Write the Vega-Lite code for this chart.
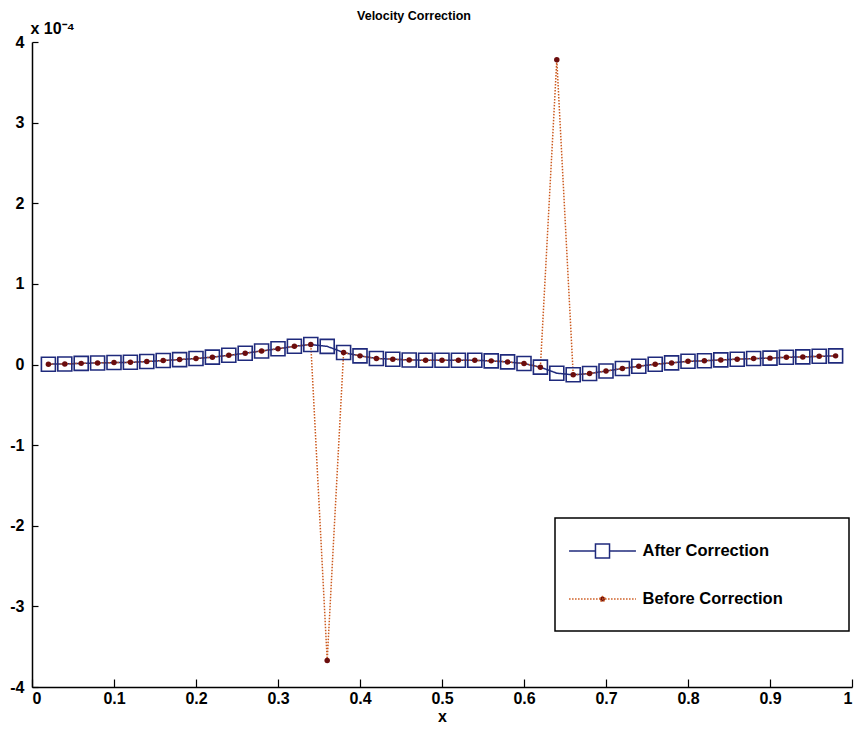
{
  "$schema": "https://vega.github.io/schema/vega-lite/v6.json",
  "width": 820,
  "height": 645,
  "autosize": "none",
  "padding": {"left": 32, "top": 42, "right": 4, "bottom": 44},
  "background": "white",
  "title": {
    "text": "Velocity Correction",
    "font": "Liberation Sans",
    "fontSize": 12.5,
    "fontWeight": "bold",
    "color": "black",
    "anchor": "middle",
    "dx": -28,
    "dy": 12,
    "baseline": "alphabetic",
    "offset": 0
  },
  "data": {
    "values": [
      {"x": 0.02, "series": "After Correction", "v": 0.004e-4},
      {"x": 0.04, "series": "After Correction", "v": 0.007e-4},
      {"x": 0.06, "series": "After Correction", "v": 0.014e-4},
      {"x": 0.08, "series": "After Correction", "v": 0.019e-4},
      {"x": 0.10, "series": "After Correction", "v": 0.024e-4},
      {"x": 0.12, "series": "After Correction", "v": 0.027e-4},
      {"x": 0.14, "series": "After Correction", "v": 0.037e-4},
      {"x": 0.16, "series": "After Correction", "v": 0.049e-4},
      {"x": 0.18, "series": "After Correction", "v": 0.061e-4},
      {"x": 0.20, "series": "After Correction", "v": 0.074e-4},
      {"x": 0.22, "series": "After Correction", "v": 0.091e-4},
      {"x": 0.24, "series": "After Correction", "v": 0.114e-4},
      {"x": 0.26, "series": "After Correction", "v": 0.140e-4},
      {"x": 0.28, "series": "After Correction", "v": 0.168e-4},
      {"x": 0.30, "series": "After Correction", "v": 0.195e-4},
      {"x": 0.32, "series": "After Correction", "v": 0.226e-4},
      {"x": 0.34, "series": "After Correction", "v": 0.248e-4},
      {"x": 0.36, "series": "After Correction", "v": 0.225e-4},
      {"x": 0.38, "series": "After Correction", "v": 0.148e-4},
      {"x": 0.40, "series": "After Correction", "v": 0.107e-4},
      {"x": 0.42, "series": "After Correction", "v": 0.075e-4},
      {"x": 0.44, "series": "After Correction", "v": 0.066e-4},
      {"x": 0.46, "series": "After Correction", "v": 0.056e-4},
      {"x": 0.48, "series": "After Correction", "v": 0.053e-4},
      {"x": 0.50, "series": "After Correction", "v": 0.053e-4},
      {"x": 0.52, "series": "After Correction", "v": 0.053e-4},
      {"x": 0.54, "series": "After Correction", "v": 0.052e-4},
      {"x": 0.56, "series": "After Correction", "v": 0.045e-4},
      {"x": 0.58, "series": "After Correction", "v": 0.032e-4},
      {"x": 0.60, "series": "After Correction", "v": 0.012e-4},
      {"x": 0.62, "series": "After Correction", "v": -0.033e-4},
      {"x": 0.64, "series": "After Correction", "v": -0.108e-4},
      {"x": 0.66, "series": "After Correction", "v": -0.128e-4},
      {"x": 0.68, "series": "After Correction", "v": -0.112e-4},
      {"x": 0.70, "series": "After Correction", "v": -0.081e-4},
      {"x": 0.72, "series": "After Correction", "v": -0.050e-4},
      {"x": 0.74, "series": "After Correction", "v": -0.021e-4},
      {"x": 0.76, "series": "After Correction", "v": 0.004e-4},
      {"x": 0.78, "series": "After Correction", "v": 0.020e-4},
      {"x": 0.80, "series": "After Correction", "v": 0.040e-4},
      {"x": 0.82, "series": "After Correction", "v": 0.046e-4},
      {"x": 0.84, "series": "After Correction", "v": 0.057e-4},
      {"x": 0.86, "series": "After Correction", "v": 0.066e-4},
      {"x": 0.88, "series": "After Correction", "v": 0.074e-4},
      {"x": 0.90, "series": "After Correction", "v": 0.079e-4},
      {"x": 0.92, "series": "After Correction", "v": 0.090e-4},
      {"x": 0.94, "series": "After Correction", "v": 0.094e-4},
      {"x": 0.96, "series": "After Correction", "v": 0.102e-4},
      {"x": 0.98, "series": "After Correction", "v": 0.107e-4},
      {"x": 0.02, "series": "Before Correction", "v": 0.004e-4},
      {"x": 0.04, "series": "Before Correction", "v": 0.007e-4},
      {"x": 0.06, "series": "Before Correction", "v": 0.014e-4},
      {"x": 0.08, "series": "Before Correction", "v": 0.019e-4},
      {"x": 0.10, "series": "Before Correction", "v": 0.024e-4},
      {"x": 0.12, "series": "Before Correction", "v": 0.027e-4},
      {"x": 0.14, "series": "Before Correction", "v": 0.037e-4},
      {"x": 0.16, "series": "Before Correction", "v": 0.049e-4},
      {"x": 0.18, "series": "Before Correction", "v": 0.061e-4},
      {"x": 0.20, "series": "Before Correction", "v": 0.074e-4},
      {"x": 0.22, "series": "Before Correction", "v": 0.091e-4},
      {"x": 0.24, "series": "Before Correction", "v": 0.114e-4},
      {"x": 0.26, "series": "Before Correction", "v": 0.140e-4},
      {"x": 0.28, "series": "Before Correction", "v": 0.168e-4},
      {"x": 0.30, "series": "Before Correction", "v": 0.195e-4},
      {"x": 0.32, "series": "Before Correction", "v": 0.226e-4},
      {"x": 0.34, "series": "Before Correction", "v": 0.248e-4},
      {"x": 0.36, "series": "Before Correction", "v": -3.67e-4},
      {"x": 0.38, "series": "Before Correction", "v": 0.148e-4},
      {"x": 0.40, "series": "Before Correction", "v": 0.107e-4},
      {"x": 0.42, "series": "Before Correction", "v": 0.075e-4},
      {"x": 0.44, "series": "Before Correction", "v": 0.066e-4},
      {"x": 0.46, "series": "Before Correction", "v": 0.056e-4},
      {"x": 0.48, "series": "Before Correction", "v": 0.053e-4},
      {"x": 0.50, "series": "Before Correction", "v": 0.053e-4},
      {"x": 0.52, "series": "Before Correction", "v": 0.053e-4},
      {"x": 0.54, "series": "Before Correction", "v": 0.052e-4},
      {"x": 0.56, "series": "Before Correction", "v": 0.045e-4},
      {"x": 0.58, "series": "Before Correction", "v": 0.032e-4},
      {"x": 0.60, "series": "Before Correction", "v": 0.012e-4},
      {"x": 0.62, "series": "Before Correction", "v": -0.033e-4},
      {"x": 0.64, "series": "Before Correction", "v": 3.78e-4},
      {"x": 0.66, "series": "Before Correction", "v": -0.128e-4},
      {"x": 0.68, "series": "Before Correction", "v": -0.112e-4},
      {"x": 0.70, "series": "Before Correction", "v": -0.081e-4},
      {"x": 0.72, "series": "Before Correction", "v": -0.050e-4},
      {"x": 0.74, "series": "Before Correction", "v": -0.021e-4},
      {"x": 0.76, "series": "Before Correction", "v": 0.004e-4},
      {"x": 0.78, "series": "Before Correction", "v": 0.020e-4},
      {"x": 0.80, "series": "Before Correction", "v": 0.040e-4},
      {"x": 0.82, "series": "Before Correction", "v": 0.046e-4},
      {"x": 0.84, "series": "Before Correction", "v": 0.057e-4},
      {"x": 0.86, "series": "Before Correction", "v": 0.066e-4},
      {"x": 0.88, "series": "Before Correction", "v": 0.074e-4},
      {"x": 0.90, "series": "Before Correction", "v": 0.079e-4},
      {"x": 0.92, "series": "Before Correction", "v": 0.090e-4},
      {"x": 0.94, "series": "Before Correction", "v": 0.094e-4},
      {"x": 0.96, "series": "Before Correction", "v": 0.102e-4},
      {"x": 0.98, "series": "Before Correction", "v": 0.107e-4}
    ]
  },
  "encoding": {
    "x": {
      "field": "x",
      "type": "quantitative",
      "scale": {"domain": [0, 1], "nice": false, "zero": false},
      "axis": {
        "values": [0, 0.1, 0.2, 0.3, 0.4, 0.5, 0.6, 0.7, 0.8, 0.9, 1],
        "format": ".1~f",
        "title": "x",
        "titleFontSize": 16,
        "titlePadding": 2,
        "labelPadding": 11
      }
    },
    "y": {
      "field": "v",
      "type": "quantitative",
      "scale": {"domain": [-0.0004, 0.0004], "nice": false, "zero": false},
      "axis": {
        "values": [-0.0004, -0.0003, -0.0002, -0.0001, 0, 0.0001, 0.0002, 0.0003, 0.0004],
        "labelExpr": "toString(round(datum.value * 10000))",
        "title": "x 10⁻⁴",
        "titleAngle": 0,
        "titleAlign": "left",
        "titleBaseline": "alphabetic",
        "titleX": -2,
        "titleY": -9,
        "titleFontSize": 16,
        "tickSize": -6,
        "labelPadding": 14
      }
    }
  },
  "layer": [
    {
      "mark": {"type": "line", "strokeWidth": 1.5},
      "encoding": {
        "color": {
          "field": "series",
          "type": "nominal",
          "scale": {"domain": ["After Correction", "Before Correction"], "range": ["#1f2a7c", "#cc5a1e"]},
          "legend": {
            "orient": "none",
            "legendX": 523,
            "legendY": 476,
            "title": "\u00a0",
            "titleOrient": "bottom",
            "titleFontSize": 8,
            "titlePadding": 2,
            "direction": "vertical",
            "symbolSize": 1444,
            "symbolOffset": 14.5,
            "labelOffset": 20,
            "rowPadding": 17,
            "padding": 13,
            "labelFont": "Liberation Sans",
            "labelFontSize": 16.5,
            "labelFontWeight": "bold",
            "labelColor": "black",
            "labelLimit": 400,
            "strokeColor": "black",
            "fillColor": "white",
            "symbolStrokeWidth": 1.5,
            "encode": {
              "legend": {"update": {"strokeWidth": {"value": 1.5}}},
              "symbols": {
                "update": {
                  "shape": {"signal": "datum.value === 'After Correction' ? 'M-1.76,0H-0.37M0.37,0H1.76M-0.37,-0.37H0.37V0.37H-0.37ZM12.1,0' : 'M-1.76,0H1.76M-0.13,0A0.13,0.13 0 1,1 0.13,0A0.13,0.13 0 1,1 -0.13,0ZM12.1,0'"},
                  "fill": {"signal": "datum.value === 'After Correction' ? 'transparent' : '#6b0d0d'"},
                  "strokeDash": {"signal": "datum.value === 'After Correction' ? [1, 0] : [1.5, 1.5]"},
                  "opacity": {"value": 1}
                }
              }
            }
          }
        },
        "strokeDash": {
          "field": "series",
          "type": "nominal",
          "scale": {"domain": ["After Correction", "Before Correction"], "range": [[1, 0], [1.5, 1.5]]},
          "legend": null
        }
      }
    },
    {
      "transform": [{"filter": "datum.series === 'After Correction'"}],
      "mark": {"type": "point", "shape": "square", "filled": false, "size": 196, "strokeWidth": 1.6, "color": "#1f2a7c", "opacity": 1}
    },
    {
      "transform": [{"filter": "datum.series === 'Before Correction'"}],
      "mark": {"type": "point", "shape": "circle", "filled": true, "size": 30, "color": "#6b0d0d", "opacity": 1}
    }
  ],
  "config": {
    "view": {"stroke": null},
    "font": "Liberation Sans",
    "axis": {
      "grid": false,
      "domainColor": "black",
      "domainWidth": 1.5,
      "tickColor": "black",
      "tickWidth": 1.2,
      "tickSize": -8,
      "labelFont": "Liberation Sans",
      "labelFontSize": 16,
      "labelFontWeight": "bold",
      "labelColor": "black",
      "titleFont": "Liberation Sans",
      "titleFontWeight": "bold",
      "titleColor": "black"
    }
  }
}
